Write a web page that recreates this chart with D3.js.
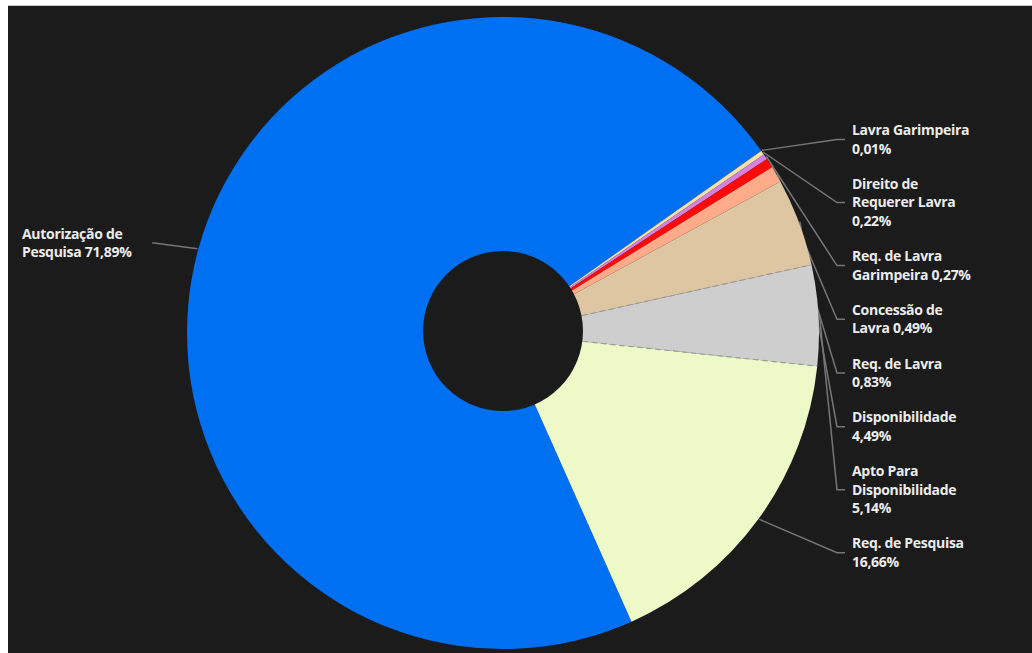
<!DOCTYPE html>
<html>
<head>
<meta charset="utf-8">
<script src="https://cdn.jsdelivr.net/npm/d3@7"></script>
<style>
  html, body { margin: 0; padding: 0; background: #ffffff; }
  svg { display: block; }
</style>
</head>
<body>
<svg id="chart" width="1032" height="653"></svg>
<script>
// Fases dos processos minerários (participação %)
const categories = [
  "Autorização de Pesquisa",
  "Lavra Garimpeira",
  "Direito de Requerer Lavra",
  "Req. de Lavra Garimpeira",
  "Concessão de Lavra",
  "Req. de Lavra",
  "Disponibilidade",
  "Apto Para Disponibilidade",
  "Req. de Pesquisa"
];
const values = [71.89, 0.01, 0.22, 0.27, 0.49, 0.83, 4.49, 5.14, 16.66];
const colors = ["#0070f2", "#f4e9a6", "#f2e2a8", "#d681e0", "#ff0a0a", "#ffab8a", "#dec6a2", "#cecece", "#edf9c6"];
// how each category name wraps, and whether the value follows on the last name line
const nameLines = [
  ["Autorização de", "Pesquisa"],
  ["Lavra Garimpeira"],
  ["Direito de", "Requerer Lavra"],
  ["Req. de Lavra", "Garimpeira"],
  ["Concessão de", "Lavra"],
  ["Req. de Lavra"],
  ["Disponibilidade"],
  ["Apto Para", "Disponibilidade"],
  ["Req. de Pesquisa"]
];
const valueInline = [true, false, false, true, true, false, false, false, false];

const W = 1032, H = 653;
const svg = d3.select("#chart");

// page frame: white strip on top, dark report canvas below
svg.append("rect").attr("x", 0).attr("y", 0).attr("width", W).attr("height", H).attr("fill", "#ffffff");
svg.append("line").attr("x1", 8).attr("x2", W).attr("y1", 5.5).attr("y2", 5.5).attr("stroke", "#c8c8c8").attr("stroke-width", 1);
svg.append("rect").attr("x", 8).attr("y", 6).attr("width", W - 8).attr("height", H - 6).attr("fill", "#1b1b1b");

const cx = 503, cy = 333, rOuter = 316, rInner = 80;
const startDeg = 156;

const pie = d3.pie().sort(null).value(d => d)
  .startAngle(startDeg * Math.PI / 180)
  .endAngle(startDeg * Math.PI / 180 + 2 * Math.PI);
const arcs = pie(values);
const arc = d3.arc().innerRadius(0).outerRadius(rOuter);

const g = svg.append("g").attr("transform", `translate(${cx},${cy})`);
const lineLayer = g.append("g");
const sliceLayer = g.append("g");
const labelLayer = svg.append("g");

const fmt = v => d3.format(".2f")(v).replace(".", ",") + "%";
const lineH = 18.6, gap = 16.5, fontSize = 14;

function labelRows(i) {
  const rows = nameLines[i].slice();
  if (valueInline[i]) rows[rows.length - 1] += " " + fmt(values[i]);
  else rows.push(fmt(values[i]));
  return rows;
}

// slices
sliceLayer.selectAll("path.slice").data(arcs).join("path")
  .attr("class", "slice")
  .attr("d", arc)
  .attr("fill", (d, i) => colors[i]);

// dashed radial edges of the "Apto Para Disponibilidade" slice
const dashed = arcs[7];
[dashed.startAngle, dashed.endAngle].forEach(a => {
  sliceLayer.append("line")
    .attr("x1", 0).attr("y1", 0)
    .attr("x2", rOuter * Math.sin(a)).attr("y2", -rOuter * Math.cos(a))
    .attr("stroke", "#9c9c9c").attr("stroke-width", 1.2)
    .attr("stroke-dasharray", "5,4");
});

// donut hole
sliceLayer.append("circle").attr("r", rInner).attr("cy", -2).attr("fill", "#1b1b1b");

// labels: right column stacked from the top, first category on the left
const rightX = 852;
let yCursor = 121;
const blocks = arcs.map((d, i) => {
  const rows = labelRows(i);
  const h = rows.length * lineH;
  let top, x;
  if (i === 0) {
    top = 243 - h / 2; x = 22;
  } else {
    top = yCursor; x = rightX;
    yCursor += h + gap;
  }
  return { d, i, rows, top, h, x };
});

blocks.forEach(b => {
  const t = labelLayer.append("text")
    .attr("font-family", "'Open Sans', 'Noto Sans', sans-serif")
    .attr("font-weight", 700)
    .attr("font-size", fontSize)
    .attr("letter-spacing", -0.3)
    .attr("fill", "#ececec");
  b.rows.forEach((r, k) => {
    t.append("tspan").attr("x", b.x).attr("y", b.top + lineH * k + lineH / 2 + 4.8).text(r);
  });
  b.width = t.node().getBBox().width;
});

// leader lines from the slice mid-angle on the rim to the label
blocks.forEach(b => {
  const a = (b.d.startAngle + b.d.endAngle) / 2;
  const p0 = [(rOuter + 1) * Math.sin(a), -(rOuter + 1) * Math.cos(a)];
  const yc = b.top + b.h / 2 - cy;
  let pts;
  if (b.i === 0) {
    const xr = b.x + b.width - cx;
    pts = [p0, [xr + 22, yc], [xr + 20, yc]];
  } else {
    const xl = b.x - cx;
    pts = [p0, [xl - 15, yc], [xl - 7, yc]];
  }
  lineLayer.append("path")
    .attr("d", d3.line()(pts))
    .attr("fill", "none")
    .attr("stroke", "#767676")
    .attr("stroke-width", 1.5);
});
</script>
</body>
</html>
